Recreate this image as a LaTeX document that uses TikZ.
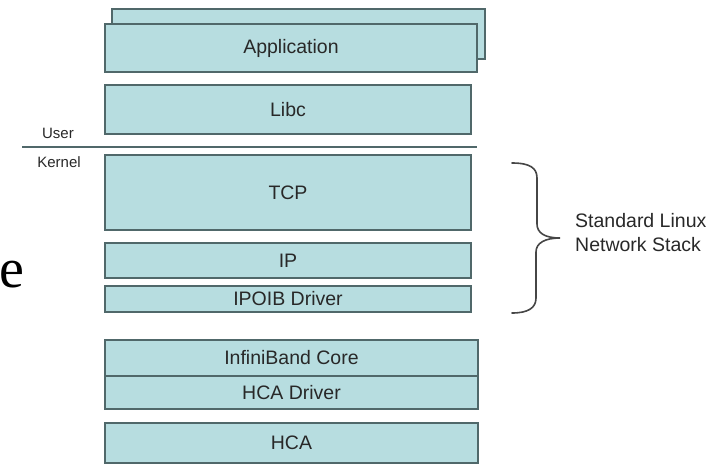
\documentclass[tikz,border=0pt]{standalone}
\usepackage{fontspec}
\setmainfont{Liberation Sans}
\newfontfamily\timesfont{Liberation Serif}
\definecolor{boxfill}{RGB}{183,221,224}
\definecolor{boxline}{RGB}{80,104,106}
\definecolor{txt}{RGB}{40,40,40}
\definecolor{bracecol}{RGB}{70,70,70}
\tikzset{
  layer/.style={draw=boxline, fill=boxfill, line width=1.6pt, inner sep=0pt,
    text=txt, font=\fontsize{19.5}{22}\selectfont, anchor=center},
  side/.style={text=txt, font=\fontsize{15}{17}\selectfont, inner sep=0pt},
  bracestyle/.style={draw=bracecol, line width=1.6pt, line cap=round}
}
\begin{document}
\begin{tikzpicture}[x=1pt,y=-1pt]
\useasboundingbox (0,0) rectangle (715,466);
% stray serif letter
\node[font=\timesfont\fontsize{56}{60}\selectfont, inner sep=0pt, anchor=base west] (e) at (-1,287) {e};
% application (stacked)
\node[layer, minimum width=373pt, minimum height=50pt] (appback) at (298.5,34) {};
\node[layer, minimum width=372pt, minimum height=48pt] (app) at (291,48) {Application};
\node[layer, minimum width=366pt, minimum height=49pt] (libc) at (288,109.5) {Libc};
% user/kernel divider
\coordinate (ls) at (22,147);
\coordinate (le) at (477,147);
\draw[draw=boxline, line width=1.3pt] (ls) -- (le);
\node[side] (user) at (58,133) {User};
\node[side] (kernel) at (59,162) {Kernel};
% kernel network stack
\node[layer, minimum width=366pt, minimum height=75pt] (tcp) at (288,192.5) {TCP};
\node[layer, minimum width=366pt, minimum height=35pt] (ip) at (288,260.5) {IP};
\node[layer, minimum width=366pt, minimum height=26pt] (ipoib) at (288,299) {IPOIB Driver};
% infiniband
\node[layer, minimum width=373pt, minimum height=36pt] (ibcore) at (291.5,358) {InfiniBand Core};
\node[layer, minimum width=373pt, minimum height=33pt] (hcadrv) at (291.5,392.5) {HCA Driver};
\node[layer, minimum width=373pt, minimum height=40pt] (hca) at (291.5,443) {HCA};
% brace
\coordinate (bt) at (512,163);
\coordinate (bm) at (560,238);
\coordinate (bb) at (512,313);
\draw[bracestyle] (bt) .. controls (530,163) and (537,168) .. (537,178) -- (537,224)
  .. controls (537,233) and (545,238) .. (bm)
  .. controls (545,238) and (536,243) .. (536,252) -- (536,298)
  .. controls (536,308) and (528,313) .. (bb);
\node[text=txt, font=\fontsize{19.5}{24}\selectfont, align=left, anchor=west, inner sep=0pt] (stack) at (575,233) {Standard Linux\\Network Stack};
\end{tikzpicture}
\end{document}
